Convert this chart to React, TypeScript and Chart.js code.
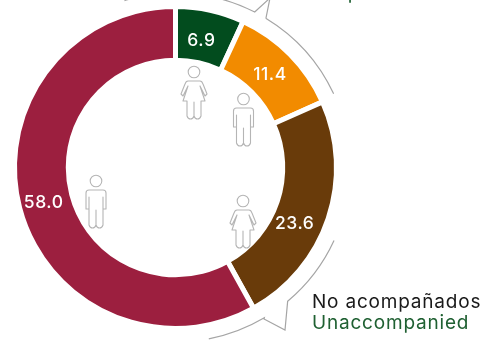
import React, { useEffect, useRef } from "react";
import { Chart, registerables } from "chart.js";

Chart.register(...registerables);

const categories = ["Mujeres acompañadas", "Hombres acompañados", "Mujeres no acompañadas", "Hombres no acompañados"];
const values = [6.9, 11.4, 23.6, 58.0];
const colors = ["#024C1E", "#F28B00", "#693B0A", "#9C1F3F"];
const labelOffsets = [[-3, 4], [-1, 1], [-8, 14], [-2, 2]];
const FONT = "Inter, 'Open Sans', sans-serif";

function person(ctx: CanvasRenderingContext2D, x: number, y: number, female: boolean) {
  ctx.save();
  ctx.translate(x, y);
  ctx.strokeStyle = "#b5b5b5";
  ctx.lineWidth = 1.1;
  ctx.lineJoin = "round";
  ctx.beginPath();
  ctx.arc(0, -21, 5.8, 0, Math.PI * 2);
  ctx.stroke();
  ctx.beginPath();
  if (female) {
    ctx.moveTo(-6, -12);
    ctx.lineTo(6, -12);
    ctx.quadraticCurveTo(8, -12, 9, -9);
    ctx.lineTo(13, 1);
    ctx.lineTo(11, 3);
    ctx.lineTo(6, -7);
    ctx.lineTo(11, 8);
    ctx.lineTo(7, 8);
    ctx.lineTo(7, 23);
    ctx.quadraticCurveTo(6, 26, 3.5, 26);
    ctx.quadraticCurveTo(1, 26, 0, 23);
    ctx.lineTo(0, 9);
    ctx.lineTo(0, 23);
    ctx.quadraticCurveTo(-1, 26, -3.5, 26);
    ctx.quadraticCurveTo(-6, 26, -7, 23);
    ctx.lineTo(-7, 8);
    ctx.lineTo(-11, 8);
    ctx.lineTo(-6, -7);
    ctx.lineTo(-11, 3);
    ctx.lineTo(-13, 1);
    ctx.lineTo(-9, -9);
    ctx.quadraticCurveTo(-8, -12, -6, -12);
  } else {
    ctx.moveTo(-7, -12);
    ctx.lineTo(7, -12);
    ctx.quadraticCurveTo(10, -12, 10, -9);
    ctx.lineTo(10, 7);
    ctx.lineTo(7, 7);
    ctx.lineTo(7, -5);
    ctx.lineTo(7, 23);
    ctx.quadraticCurveTo(6, 26, 3.5, 26);
    ctx.quadraticCurveTo(1, 26, 0, 23);
    ctx.lineTo(0, 8);
    ctx.lineTo(0, 23);
    ctx.quadraticCurveTo(-1, 26, -3.5, 26);
    ctx.quadraticCurveTo(-6, 26, -7, 23);
    ctx.lineTo(-7, -5);
    ctx.lineTo(-7, 7);
    ctx.lineTo(-10, 7);
    ctx.lineTo(-10, -9);
    ctx.quadraticCurveTo(-10, -12, -7, -12);
  }
  ctx.stroke();
  ctx.restore();
}

const overlay = {
  id: "overlay",
  afterDraw(chart: any) {
    const { ctx } = chart;
    const arcs = chart.getDatasetMeta(0).data;
    ctx.save();
    ctx.fillStyle = "#fff";
    ctx.font = `500 17.5px ${FONT}`;
    (ctx as any).letterSpacing = "0.5px";
    ctx.textAlign = "center";
    ctx.textBaseline = "middle";
    arcs.forEach((a: any, i: number) => {
      const p = a.tooltipPosition();
      ctx.fillText(values[i].toFixed(1), p.x + labelOffsets[i][0], p.y + labelOffsets[i][1]);
    });

    const cx = arcs[0].x;
    const cy = arcs[0].y;
    const R = 174.5;
    const deg = (d: number) => (d * Math.PI) / 180;
    ctx.strokeStyle = "#a5a5a5";
    ctx.lineWidth = 1.2;
    ctx.lineJoin = "miter";
    ctx.beginPath();
    ctx.arc(cx, cy, R, deg(-107), deg(-63));
    ctx.lineTo(270, -2);
    ctx.lineTo(266, 18);
    ctx.arc(cx, cy, R, deg(-58.7), deg(-25));
    ctx.stroke();
    ctx.beginPath();
    ctx.arc(cx, cy, R, deg(24.7), deg(50));
    ctx.lineTo(285, 330);
    ctx.lineTo(264, 319);
    ctx.arc(cx, cy, R, deg(59.4), deg(79));
    ctx.stroke();

    person(ctx, 194, 93, true);
    person(ctx, 243.5, 120, false);
    person(ctx, 96, 202, false);
    person(ctx, 243, 222, true);

    ctx.textAlign = "left";
    ctx.textBaseline = "alphabetic";
    ctx.font = `400 19px ${FONT}`;
    (ctx as any).letterSpacing = "0.8px";
    ctx.fillStyle = "#1a1a1a";
    ctx.fillText("No acompañados", 312, 308);
    ctx.fillStyle = "#1f6032";
    ctx.fillText("Unaccompanied", 312, 329);
    ctx.fillText("Accompanied", 281, -1);
    ctx.restore();
  },
};

export default function App() {
  const ref = useRef<HTMLCanvasElement>(null);
  useEffect(() => {
    const chart = new Chart(ref.current!, {
      type: "doughnut",
      data: {
        labels: categories,
        datasets: [{ data: values, backgroundColor: colors, borderColor: "#ffffff", borderWidth: 5, hoverOffset: 0 }],
      },
      options: {
        animation: false,
        responsive: false,
        cutout: "66.6%",
        layout: { padding: { left: 12, right: 149, top: 3.5, bottom: 9.5 } },
        plugins: { legend: { display: false }, tooltip: { enabled: false } },
      } as any,
      plugins: [overlay],
    });
    return () => chart.destroy();
  }, []);
  return (
    <canvas
      ref={ref}
      width={488}
      height={341}
      style={{ position: "absolute", left: 0, top: 0, width: 488, height: 341 }}
    />
  );
}
